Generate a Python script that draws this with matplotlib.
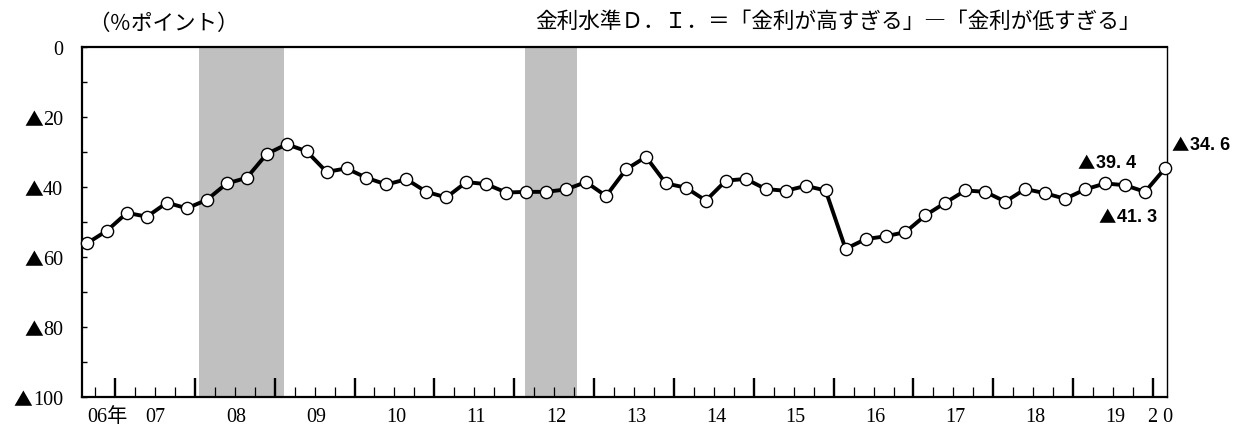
import numpy as np
import matplotlib
matplotlib.use('Agg')
import matplotlib.pyplot as plt
from matplotlib.ticker import NullFormatter

plt.rcParams['font.family'] = ['Liberation Serif', 'Noto Sans CJK JP', 'DejaVu Sans']

# ---- data ----
# quarterly DI (Sep 2006 ... Mar 2020), % points
di_values = [-56.0, -52.4, -47.3, -48.4, -44.4, -46.0, -43.6, -38.9, -37.3, -30.5,
             -27.7, -29.7, -35.6, -34.6, -37.3, -39.2, -37.7, -41.3, -42.9, -38.5,
             -39.1, -41.5, -41.3, -41.3, -40.6, -38.5, -42.5, -34.9, -31.3, -38.9,
             -40.1, -43.8, -38.1, -37.6, -40.5, -41.0, -39.6, -40.9, -57.6, -54.8,
             -54.0, -52.8, -48.0, -44.4, -40.9, -41.3, -44.1, -40.5, -41.7, -43.3,
             -40.6, -38.9, -39.4, -41.3, -34.6]
first_month = 7.8        # months since Jan 2006
step_months = 3
# recession bands (months since Jan 2006)
recessions = [(24.6, 37.4), (73.6, 81.4)]
year_labels = ['06年', '07', '08', '09', '10', '11', '12', '13', '14', '15',
               '16', '17', '18', '19', '2 0']
yticks = [0, -20, -40, -60, -80, -100]
ytick_numbers = ['0', '20', '40', '60', '80', '100']
callout_texts = ['39. 4', '41. 3', '34. 6']
callout_pos = [(1078, 164), (1099, 218), (1172, 146)]   # left x, center y (px)

W, H = 1248, 428
fig = plt.figure(figsize=(W / 100, H / 100), dpi=100)
AX_L, AX_R, AX_T, AX_B = 81.7, 1167.0, 47.3, 397.3
ax = fig.add_axes([AX_L / W, 1 - AX_B / H, (AX_R - AX_L) / W, (AX_B - AX_T) / H])

def fx(px):
    return px / W

def fy(py):
    return 1 - py / H

x = first_month + step_months * np.arange(len(di_values))

for a, b in recessions:
    ax.axvspan(a, b, color='#c0c0c0', lw=0, zorder=0)

ax.plot(x, di_values, color='black', lw=2.8, marker='o', ms=8.8,
        mfc='white', mec='black', mew=1.0, zorder=3, clip_on=False)

ax.set_xlim(7.0, 170.1)
ax.set_ylim(-100, 0)

# y axis ticks (labels drawn manually so ▲ comes from the CJK font)
ax.set_yticks(yticks)
ax.yaxis.set_major_formatter(NullFormatter())
ax.set_yticks(np.arange(-90, 0, 20), minor=True)
ax.tick_params(axis='y', which='both', direction='in', length=3.5, width=1.0, right=False)

ylab_fs = 14.5
digit_px = 0.5 * ylab_fs * 100 / 72
for v, num in zip(yticks, ytick_numbers):
    py = AX_T + (-v) * (AX_B - AX_T) / 100 + 3
    fig.text(fx(63), fy(py), num, fontsize=ylab_fs, family=['Liberation Serif'],
             ha='right', va='center')
    if v != 0:
        tri_x = 63 - len(num) * digit_px - 9.5
        fig.text(fx(tri_x), fy(py), '▲', fontsize=13.5, family=['Noto Sans CJK JP'],
                 ha='center', va='center')

# x axis
year_ticks = np.arange(12, 169, 12)
q_ticks = [m for m in range(9, 169, 3) if m % 12 != 0]
ax.set_xticks(year_ticks)
ax.set_xticks(q_ticks, minor=True)
ax.xaxis.set_major_formatter(NullFormatter())
ax.xaxis.set_minor_formatter(NullFormatter())
ax.tick_params(axis='x', which='major', direction='in', length=13.7, width=1.7, top=False)
ax.tick_params(axis='x', which='minor', direction='in', length=7.2, width=0.9, top=False)

label_pos = [10.9] + [12 * i + 6.3 for i in range(1, 14)] + [169.1]
label_pos[1] = 18.0
for lab, p in zip(year_labels, label_pos):
    ax.annotate(lab, xy=(p, 0), xycoords=('data', 'axes fraction'),
                xytext=(0, -14.5), textcoords='offset points',
                ha='center', va='center', fontsize=14.5)

for side in ['left', 'bottom', 'top']:
    ax.spines[side].set_linewidth(1.6)
ax.spines['right'].set_linewidth(1.0)

# header texts
fig.text(fx(88), fy(24), '（％ポイント）', fontsize=15.5,
         family=['Noto Sans CJK JP'], ha='left', va='center')
fig.text(fx(1141), fy(22), '金利水準Ｄ．Ｉ．＝「金利が高すぎる」―「金利が低すぎる」',
         fontsize=15.6, family=['Noto Sans CJK JP'], ha='right', va='center')

# callouts
for txt, (px, py) in zip(callout_texts, callout_pos):
    fig.text(fx(px + 8.5), fy(py), '▲', fontsize=12.5, fontweight='bold',
             family=['Noto Sans CJK JP'], ha='center', va='center')
    fig.text(fx(px + 18), fy(py), txt, fontsize=13, fontweight='bold',
             family=['Liberation Sans', 'DejaVu Sans'], ha='left', va='center')

fig.savefig('out.png', dpi=100)
